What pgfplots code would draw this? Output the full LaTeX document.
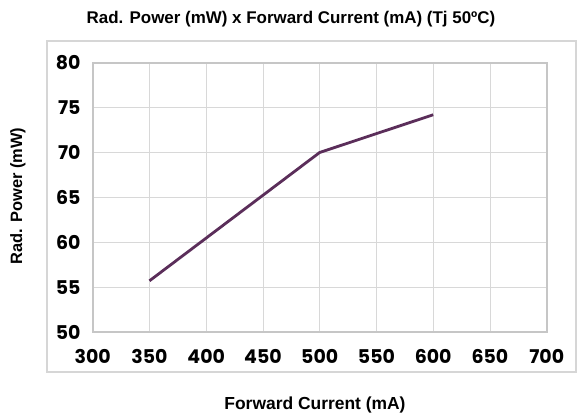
\documentclass[border=0pt]{standalone}
\usepackage{fontspec}
\setmainfont{Liberation Sans}
\newfontfamily\tickfont{Poppins}
\usepackage{pgfplots}
\pgfplotsset{compat=1.18}
\definecolor{linec}{HTML}{5B2E5A}
\definecolor{gridc}{HTML}{D8D8D8}
\definecolor{borderc}{HTML}{C6C6C6}
\definecolor{framec}{HTML}{D6D6D6}
\begin{document}
\begin{tikzpicture}
\useasboundingbox (-92.7bp,-87bp) rectangle (485.3bp,332bp);
\fill[white] (-92.7bp,-87bp) rectangle (485.3bp,332bp);
\draw[framec, line width=2bp] (-45.7bp,-40bp) rectangle (483.3bp,291.3bp);
\begin{axis}[at={(0,0)}, anchor=south west, scale only axis, width=454bp, height=269.3bp,
 xmin=300,xmax=700,ymin=50,ymax=80, xtick={300,350,...,700}, ytick={50,55,...,80},
 grid=major, major grid style={gridc, line width=0.9bp}, axis line style={borderc, line width=2bp},
 major tick length=0pt,
 tick label style={font=\tickfont\bfseries\fontsize{19}{19}\selectfont},
 /pgf/number format/assume math mode=true,
 xticklabel style={anchor=north, inner sep=0pt, yshift=-17bp},
 yticklabel style={anchor=east, inner sep=0pt, xshift=-12bp},
 ]
\addplot[linec, line width=2.8bp] coordinates {(350,55.7) (500,70) (600,74.2)};
\end{axis}
\node[font=\bfseries\fontsize{17}{17}\selectfont] at (198.3bp,313bp) {Rad. Power (mW) x Forward Current (mA) (Tj 50ºC)};
\node[font=\bfseries\fontsize{17.5}{17.5}\selectfont] at (222.3bp,-73bp) {Forward Current (mA)};
\node[font=\bfseries\fontsize{16.5}{16.5}\selectfont, rotate=90] at (-74.7bp,136bp) {Rad. Power (mW)};
\end{tikzpicture}
\end{document}
